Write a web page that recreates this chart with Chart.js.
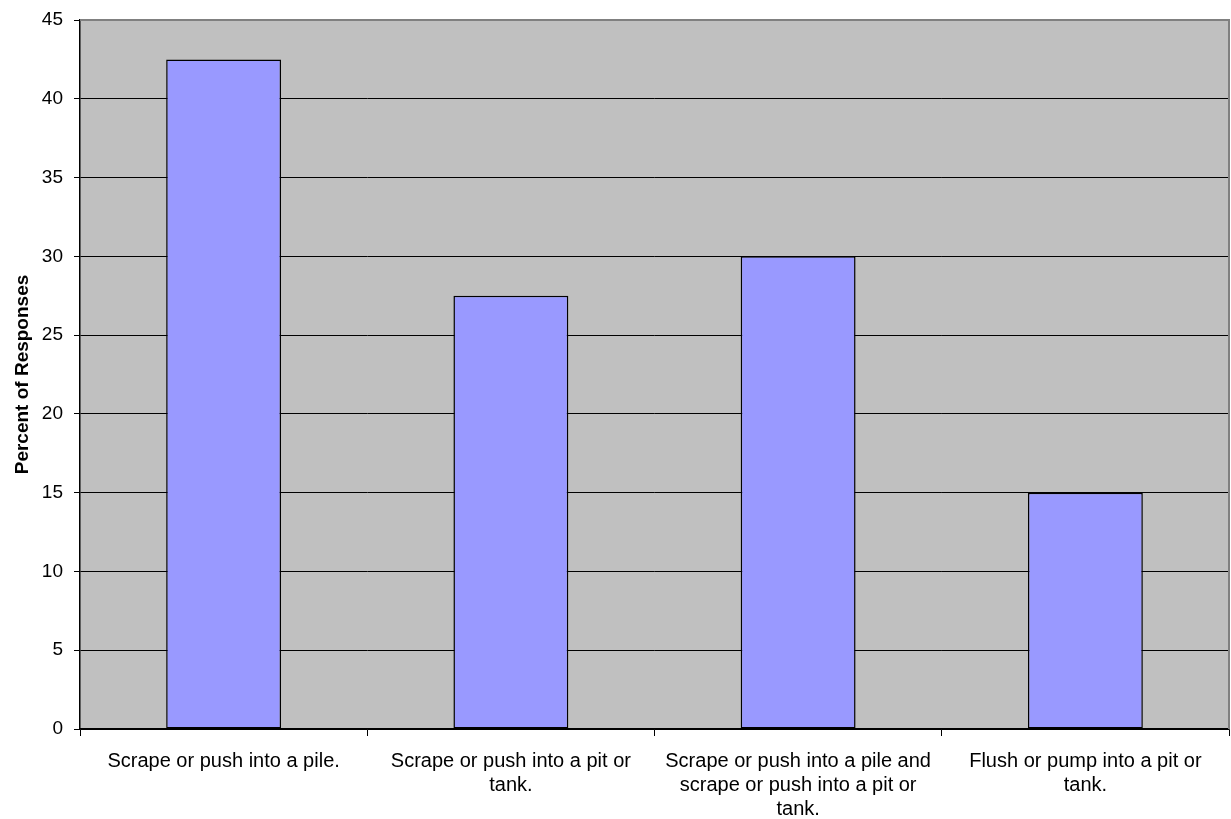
<!DOCTYPE html>
<html>
<head>
<meta charset="utf-8">
<script src="https://cdn.jsdelivr.net/npm/chart.js@4"></script>
<style>
  html, body { margin: 0; padding: 0; background: #fff; }
  #wrap { width: 1231px; height: 819px; }
</style>
</head>
<body>
<div id="wrap"><canvas id="chart" width="1231" height="819"></canvas></div>
<script>
const categories = [
  ['Scrape or push into a pile.'],
  ['Scrape or push into a pit or', 'tank.'],
  ['Scrape or push into a pile and', 'scrape or push into a pit or', 'tank.'],
  ['Flush or pump into a pit or', 'tank.'],
];
const responses = [42.5, 27.5, 30, 15];
const yTicks = { min: 0, max: 45, step: 5 };
const FONT = "'Liberation Sans', Arial, sans-serif";

// gray plot background + gray top/right border
const plotArea = {
  id: 'plotArea',
  beforeDraw(chart) {
    const { ctx, chartArea: a } = chart;
    ctx.save();
    ctx.fillStyle = '#c0c0c0';
    ctx.fillRect(a.left, a.top, a.right - a.left, a.bottom - a.top);
    ctx.restore();
  },
  afterDatasetsDraw(chart) {
    const { ctx, chartArea: a } = chart;
    ctx.save();
    ctx.strokeStyle = '#808080';
    ctx.lineWidth = 2;
    ctx.beginPath();
    ctx.moveTo(a.left, a.top);
    ctx.lineTo(a.right, a.top);
    ctx.lineTo(a.right, a.bottom);
    ctx.stroke();
    ctx.restore();
  },
};

new Chart(document.getElementById('chart').getContext('2d'), {
  type: 'bar',
  data: {
    labels: categories,
    datasets: [{
      data: responses,
      backgroundColor: '#9999ff',
      borderColor: '#000000',
      borderWidth: 1.5,
      borderSkipped: false,
      barPercentage: 0.4,
      categoryPercentage: 1,
    }],
  },
  options: {
    responsive: false,
    animation: false,
    layout: { padding: { top: 20, right: 2, left: 8, bottom: 0 } },
    plugins: { legend: { display: false }, tooltip: { enabled: false } },
    scales: {
      x: {
        offset: true,
        grid: {
          offset: true,
          drawOnChartArea: false,
          drawTicks: true,
          tickLength: 7,
          tickColor: '#000',
        },
        border: { color: '#000', width: 1.5 },
        ticks: {
          color: '#000',
          font: { family: FONT, size: 20, lineHeight: 1.2 },
          maxRotation: 0,
          autoSkip: false,
          padding: 13,
        },
        afterFit(scale) { scale.height = 90; },
      },
      y: {
        min: yTicks.min,
        max: yTicks.max,
        grid: { color: '#000', lineWidth: 1, tickLength: 6, tickColor: '#000' },
        border: { color: '#000', width: 1.5 },
        ticks: {
          stepSize: yTicks.step,
          color: '#000',
          font: { family: FONT, size: 19 },
          padding: 11,
        },
        title: {
          display: true,
          text: 'Percent of Responses',
          color: '#000',
          font: { family: FONT, size: 19, weight: 'bold' },
          padding: { top: 3, bottom: 0 },
        },
        afterFit(scale) {
          scale.width = 72;
          scale.paddingTop = 0;
          scale.paddingBottom = 0;
        },
      },
    },
  },
  plugins: [plotArea],
});
</script>
</body>
</html>
